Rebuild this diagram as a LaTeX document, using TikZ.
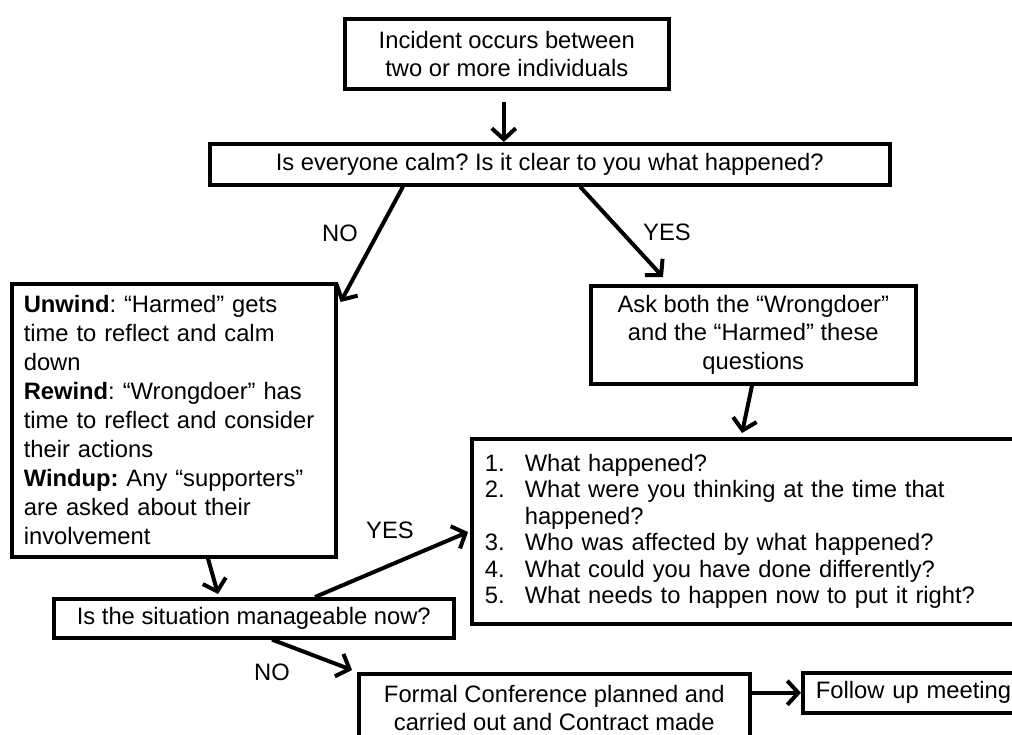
\documentclass[tikz,border=0pt]{standalone}
\usepackage{fontspec}
\setmainfont{Liberation Sans}
\usetikzlibrary{arrows.meta,calc}
\frenchspacing
\begin{document}
\begin{tikzpicture}[x=1pt,y=-1pt,
  box/.style={draw, line width=3.6pt, inner sep=0pt, anchor=north west,
    font=\fontsize{23.75}{28.5}\selectfont},
  arr/.style={line width=4pt, -{Straight Barb[length=11pt,width=24pt]}},
  lbl/.style={font=\fontsize{23.75}{28.5}\selectfont, inner sep=0pt}]
\useasboundingbox (0,0) rectangle (1012,734);
\fill[white] (0,0) rectangle (1012,734);
\clip (0,0) rectangle (1012,734);

\node[box, minimum width=324pt, minimum height=70pt, align=center] (inc) at (343,17)
  {Incident occurs between\\two or more individuals};
\node[box, minimum width=680pt, minimum height=41pt] (q1) at (208,142)
  {Is everyone calm? Is it clear to you what happened?};
\node[box, minimum width=324pt, minimum height=273pt, text width=300pt, align=left,
  font=\fontsize{23.75}{29}\selectfont] (unw) at (10,282)
  {\textbf{Unwind}: “Harmed” gets\\
   time to reflect and calm\\
   down\\
   \textbf{Rewind}: “Wrongdoer” has\\
   time to reflect and consider\\
   their actions\\
   \textbf{Windup:} Any “supporters”\\
   are asked about their\\
   involvement};
\node[box, minimum width=325pt, minimum height=98pt, align=center] (ask) at (589,284)
  {Ask both the “Wrongdoer”\\and the “Harmed” these\\questions};
\node[box, minimum width=560pt, minimum height=185pt, text width=534pt, align=left,
  font=\fontsize{23.75}{26.5}\selectfont] (lst) at (470,437)
  {\makebox[40pt][l]{1.}What happened?\\
   \makebox[40pt][l]{2.}What were you thinking at the time that\\
   \hspace*{40pt}happened?\\
   \makebox[40pt][l]{3.}Who was affected by what happened?\\
   \makebox[40pt][l]{4.}What could you have done differently?\\
   \makebox[40pt][l]{5.}What needs to happen now to put it right?};
\node[box, minimum width=391pt, minimum height=68pt, align=center] (frm) at (357,672)
  {Formal Conference planned and\\carried out and Contract made};
\node[box, minimum width=240pt, minimum height=40pt, text width=214pt, align=left] (fol) at (801,671)
  {Follow up meeting};
\node[box, minimum width=400pt, minimum height=39pt] (sit) at (52,597)
  {Is the situation manageable now?};

\node[lbl] (no1) at (340,233) {NO};
\node[lbl] (yes1) at (667,232) {YES};
\node[lbl] (yes2) at (390,530) {YES};
\node[lbl] (no2) at (272,672) {NO};

\coordinate (a1) at ($(inc.south)+(-3,11)$);
\draw[arr] (a1) -- (a1 |- q1.north);
\draw[arr] ($(q1.south west)+(195,0)$) -- ($(unw.north east)+(3,20)$);
\draw[arr] ($(q1.south west)+(372,0)$) -- ($(ask.north west)+(74,-7)$);
\draw[arr] ($(ask.south west)+(163,0)$) -- ($(lst.north west)+(272,-4)$);
\draw[arr] ($(unw.south west)+(198,0)$) -- ($(sit.north west)+(166,-3)$);
\draw[arr] ($(sit.north west)+(263,0)$) -- ($(lst.north west)+(-2,95)$);
\draw[arr] ($(sit.south west)+(220,0)$) -- ($(frm.north west)+(-5,-2)$);
\draw[arr] (frm.east |- fol.west) -- (fol.west);
\end{tikzpicture}
\end{document}
